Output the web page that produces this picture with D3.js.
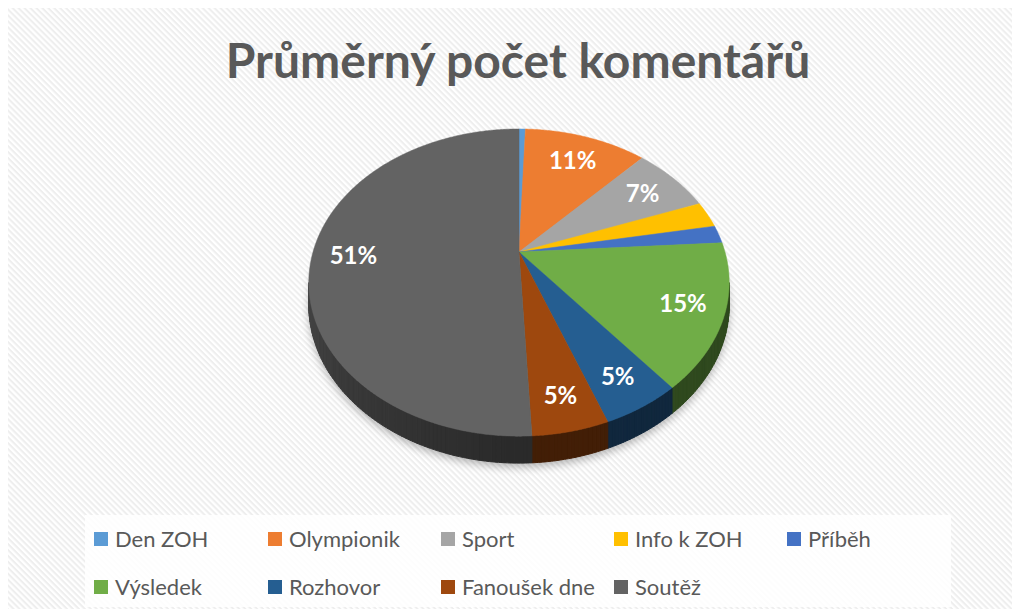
<!DOCTYPE html>
<html>
<head>
<meta charset="utf-8">
<script src="https://cdn.jsdelivr.net/npm/d3@7/dist/d3.min.js"></script>
<style>
  body { margin: 0; background: #fff; }
  svg { display: block; }
</style>
</head>
<body>
<svg id="chart" width="1019" height="613"></svg>
<script>
// data (share of the average comment count, %)
var categories = ["Den ZOH", "Olympionik", "Sport", "Info k ZOH", "Příběh",
                  "Výsledek", "Rozhovor", "Fanoušek dne", "Soutěž"];
var values = [0.6, 11.4, 7.3, 2.8, 1.9, 15.2, 5.1, 4.9, 50.8];
var colors = ["#5B9BD5", "#ED7D31", "#A5A5A5", "#FFC000", "#4472C4",
              "#70AD47", "#255E91", "#9E480E", "#636363"];
var title = "Průměrný počet komentářů";

var svg = d3.select("#chart"),
    font = "Lato, 'Open Sans', sans-serif";

// background with Excel-like diagonal hatch
var defs = svg.append("defs");
var pat = defs.append("pattern")
    .attr("id", "hatch")
    .attr("patternUnits", "userSpaceOnUse")
    .attr("width", 4.2).attr("height", 4.2)
    .attr("patternTransform", "rotate(-45)");
pat.append("rect").attr("width", 4.2).attr("height", 4.2).attr("fill", "#eeeeee");
pat.append("rect").attr("width", 2.2).attr("height", 4.2).attr("fill", "#ffffff");

var blur = defs.append("filter").attr("id", "shadow")
    .attr("x", "-20%").attr("y", "-20%").attr("width", "140%").attr("height", "140%");
blur.append("feGaussianBlur").attr("stdDeviation", 4);

svg.append("rect")
    .attr("x", 8).attr("y", 8)
    .attr("width", 1004).attr("height", 601)
    .attr("fill", "url(#hatch)");

svg.append("text")
    .attr("x", 518).attr("y", 78)
    .attr("text-anchor", "middle")
    .style("font", "bold 48px " + font)
    .attr("fill", "#595959")
    .text(title);

// 3d pie, perspective projection of a flat disc
var cx = 519, cy = 252, R = 206, S = 147.5, p = 0.199, depth = 21.6;

function proj(a, r) {
  var u = r * Math.sin(a), v = -r * Math.cos(a), w = 1 - p * v;
  return [cx + R * u / w, cy + S * v / w, w];
}
function rimPts(a0, a1, down) {
  var n = Math.max(2, Math.ceil((a1 - a0) / (Math.PI / 360))), pts = [];
  for (var i = 0; i <= n; i++) {
    var a = a0 + (a1 - a0) * i / n, q = proj(a, 1);
    pts.push([q[0], q[1] + (down ? depth / q[2] : 0)]);
  }
  return pts;
}

var total = d3.sum(values);
var arcs = d3.pie().sort(null).value(function(d) { return d; })(values);
var line = d3.line();

// soft shadow under the disc
var shadowPts = rimPts(0, 2 * Math.PI, true).map(function(q) { return [q[0], q[1] + 4]; });
svg.append("path")
    .attr("d", line(shadowPts) + "Z")
    .attr("fill", "#000")
    .attr("opacity", 0.28)
    .attr("filter", "url(#shadow)");

// side wall, only the front half is visible
var vis0 = Math.acos(-p), vis1 = 2 * Math.PI - vis0;
var gSide = svg.append("g");
arcs.forEach(function(d, i) {
  var s = Math.max(d.startAngle, vis0), e = Math.min(d.endAngle, vis1);
  if (e <= s) return;
  var c = d3.rgb(colors[i]);
  var step = Math.PI / 180, n = Math.ceil((e - s) / step);
  for (var k = 0; k < n; k++) {
    var a0 = s + (e - s) * k / n, a1 = s + (e - s) * (k + 1) / n;
    var am = (a0 + a1) / 2 * 180 / Math.PI;
    var f = am <= 180 ? 0.42 : 0.42 + 0.27 * (am - 180) / 78.5;
    var col = d3.rgb(c.r * f, c.g * f, c.b * f);
    var top = rimPts(a0, a1, false), bot = rimPts(a0, a1, true).reverse();
    gSide.append("path")
        .attr("d", line(top.concat(bot)) + "Z")
        .attr("fill", col)
        .attr("stroke", col)
        .attr("stroke-width", 1);
  }
});

// top face
svg.append("g").selectAll("path")
  .data(arcs)
  .enter().append("path")
    .attr("d", function(d) {
      return line([[cx, cy]].concat(rimPts(d.startAngle, d.endAngle, false))) + "Z";
    })
    .attr("fill", function(d, i) { return colors[i]; })
    .attr("stroke", function(d, i) { return colors[i]; })
    .attr("stroke-width", 0.5);

// percentage labels (small slices were left unlabelled)
var pct = d3.format(".0%");
svg.append("g").selectAll("text")
  .data(arcs.filter(function(d) { return d.value / total >= 0.04; }))
  .enter().append("text")
    .attr("x", function(d) {
      var q = proj((d.startAngle + d.endAngle) / 2, 1);
      return cx + 0.8 * (q[0] - cx);
    })
    .attr("y", function(d) {
      var q = proj((d.startAngle + d.endAngle) / 2, 1);
      return cy + 0.8 * (q[1] - cy);
    })
    .attr("dy", "0.36em")
    .attr("text-anchor", "middle")
    .style("font", "bold 24px " + font)
    .attr("fill", "#fff")
    .text(function(d) { return pct(d.value / total); });

// legend
svg.append("rect")
    .attr("x", 85).attr("y", 515)
    .attr("width", 866).attr("height", 92)
    .attr("fill", "#fff").attr("opacity", 0.85);

var colX = [94, 268, 441, 614, 787], rowY = [547, 595];
var leg = svg.append("g").selectAll("g")
  .data(categories)
  .enter().append("g")
    .attr("transform", function(d, i) {
      return "translate(" + colX[i % 5] + "," + rowY[Math.floor(i / 5)] + ")";
    });
leg.append("rect")
    .attr("x", 0).attr("y", -15)
    .attr("width", 14).attr("height", 14)
    .attr("fill", function(d, i) { return colors[i]; });
leg.append("text")
    .attr("x", 21).attr("y", 0)
    .style("font", "22px " + font)
    .attr("fill", "#595959")
    .text(function(d) { return d; });
</script>
</body>
</html>
